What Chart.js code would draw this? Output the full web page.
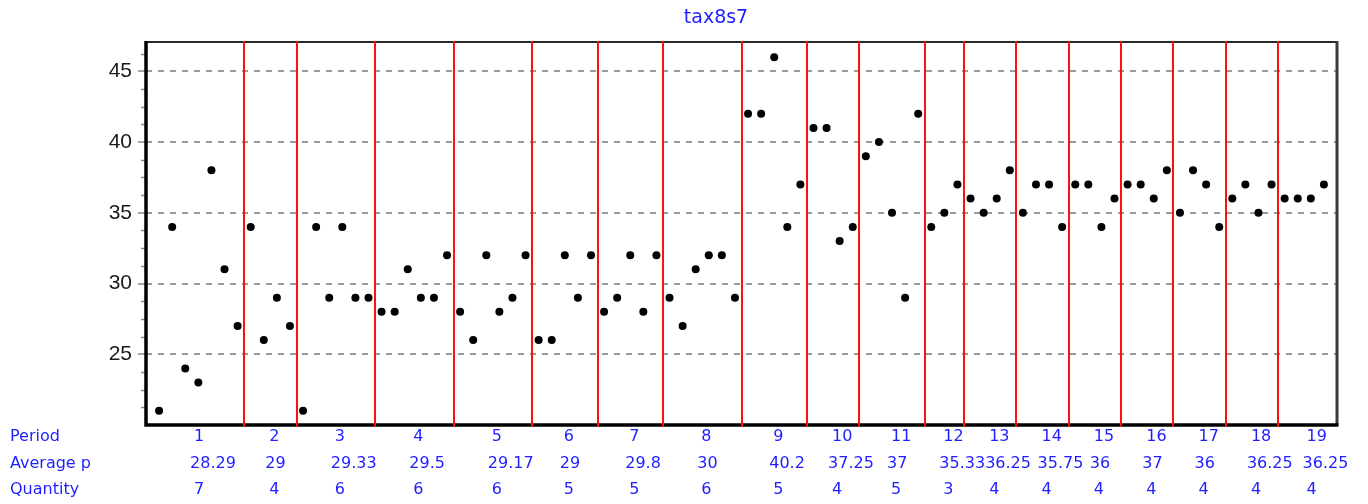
<!DOCTYPE html>
<html><head><meta charset="utf-8">
<script src="https://cdn.jsdelivr.net/npm/chart.js@4.4.1/dist/chart.umd.min.js"></script>
<style>html,body{margin:0;padding:0;background:#fff;}canvas{display:block;}</style>
</head><body>
<canvas id="c" width="1368" height="504"></canvas>
<script>
const chartTitle = 'tax8s7';
const periods = ['1','2','3','4','5','6','7','8','9','10','11','12','13','14','15','16','17','18','19'];
const averages = ['28.29','29','29.33','29.5','29.17','29','29.8','30','40.2','37.25','37','35.33','36.25','35.75','36','37','36','36.25','36.25'];
const quantities = [7,4,6,6,6,5,5,6,5,4,5,3,4,4,4,4,4,4,4];
const prices = [
  21,34,24,23,38,31,27,
  34,26,29,27,
  21,34,29,34,29,29,
  28,28,31,29,29,32,
  28,26,32,28,29,32,
  26,26,32,29,32,
  28,29,32,28,32,
  29,27,31,32,32,29,
  42,42,46,34,37,
  41,41,33,34,
  39,40,35,29,42,
  34,35,37,
  36,35,36,38,
  35,37,37,34,
  37,37,34,36,
  37,37,36,38,
  35,38,37,34,
  36,37,35,37,
  36,36,36,37
];
const yTicks = [25,30,35,40,45];
const rowLabels = ['Period','Average p','Quantity'];

const X_MIN = -1, X_MAX = 90, Y_MIN = 20, Y_MAX = 47.07, MINOR_STEP = 1.25;

// period boundaries (between last trade of one period and first of next)
const boundaries = [];
let cum = 0;
quantities.forEach((q, i) => { cum += q; if (i < quantities.length - 1) boundaries.push(cum - 0.5); });

const points = prices.map((p, i) => ({x: i, y: p}));

const BLUE = '#1e1eff';

const deco = {
  id: 'deco',
  beforeDatasetsDraw(chart) {
    const {ctx, chartArea: a, scales: {x, y}} = chart;
    ctx.save();
    // minor ticks on y axis
    ctx.strokeStyle = '#8a8a8a'; ctx.lineWidth = 1.5;
    for (let v = Y_MIN; v <= Y_MAX; v += MINOR_STEP) {
      if (Math.abs(v % 5) < 1e-6) continue;
      const py = Math.round(y.getPixelForValue(v)) + 0.5;
      ctx.beginPath(); ctx.moveTo(a.left - 5, py); ctx.lineTo(a.left, py); ctx.stroke();
    }
    // frame: top and right thinner dark grey
    ctx.strokeStyle = '#2a2a2a'; ctx.lineWidth = 2;
    ctx.beginPath(); ctx.moveTo(a.left, a.top); ctx.lineTo(a.right, a.top); ctx.stroke();
    ctx.strokeStyle = '#3a3a3a'; ctx.lineWidth = 3;
    ctx.beginPath(); ctx.moveTo(a.right, a.top - 1); ctx.lineTo(a.right, a.bottom); ctx.stroke();
    // left and bottom thick black
    ctx.strokeStyle = '#000'; ctx.lineWidth = 3.5;
    ctx.beginPath(); ctx.moveTo(a.left, a.top - 1); ctx.lineTo(a.left, a.bottom); ctx.lineTo(a.right + 1.5, a.bottom); ctx.stroke();
    // red period separators
    ctx.strokeStyle = '#ff1010'; ctx.lineWidth = 2;
    boundaries.forEach(b => {
      const px = Math.round(x.getPixelForValue(b));
      ctx.beginPath(); ctx.moveTo(px, a.top - 1); ctx.lineTo(px, a.bottom + 2); ctx.stroke();
    });
    ctx.restore();
  },
  afterDraw(chart) {
    const {ctx, scales: {x}} = chart;
    ctx.save();
    ctx.fillStyle = BLUE;
    ctx.textBaseline = 'middle';
    // title
    ctx.font = '19px "DejaVu Sans"';
    ctx.textAlign = 'center';
    ctx.fillText(chartTitle, 716, 18);
    // table
    ctx.font = '16px "DejaVu Sans"';
    ctx.textAlign = 'left';
    const rowsY = [437, 464, 490];
    rowLabels.forEach((t, r) => ctx.fillText(t, 10, rowsY[r]));
    periods.forEach((p, i) => {
      const l = i === 0 ? X_MIN : boundaries[i - 1];
      const rr = i === periods.length - 1 ? X_MAX : boundaries[i];
      const mid = x.getPixelForValue((l + rr) / 2);
      ctx.fillText(p, mid - 1, rowsY[0]);
      ctx.fillText(averages[i], mid - 5, rowsY[1]);
      ctx.fillText(String(quantities[i]), mid - 1, rowsY[2]);
    });
    ctx.restore();
  }
};

new Chart(document.getElementById('c'), {
  type: 'scatter',
  data: {
    datasets: [{
      data: points,
      backgroundColor: '#000',
      borderColor: '#000',
      borderWidth: 0,
      pointRadius: 4,
      pointHoverRadius: 4
    }]
  },
  options: {
    responsive: false,
    animation: false,
    devicePixelRatio: 1,
    layout: {padding: {left: 0, top: 42, right: 31, bottom: 79}},
    plugins: {legend: {display: false}, title: {display: false}, tooltip: {enabled: false}},
    events: [],
    scales: {
      x: {
        type: 'linear', min: X_MIN, max: X_MAX, display: false
      },
      y: {
        type: 'linear', min: Y_MIN, max: Y_MAX,
        afterBuildTicks: s => { s.ticks = yTicks.map(v => ({value: v})); },
        afterFit: s => { s.width = 146; },
        ticks: {
          color: '#1a1a1a', padding: 6,
          font: {family: '"Liberation Sans", Arial, sans-serif', size: 21}
        },
        grid: {
          color: '#9a9a9a', lineWidth: 2,
          tickLength: 8, tickColor: '#8a8a8a', tickWidth: 1.5, tickBorderDash: []
        },
        border: {display: false, dash: [6, 6]}
      }
    }
  },
  plugins: [deco]
});
</script>
</body></html>
